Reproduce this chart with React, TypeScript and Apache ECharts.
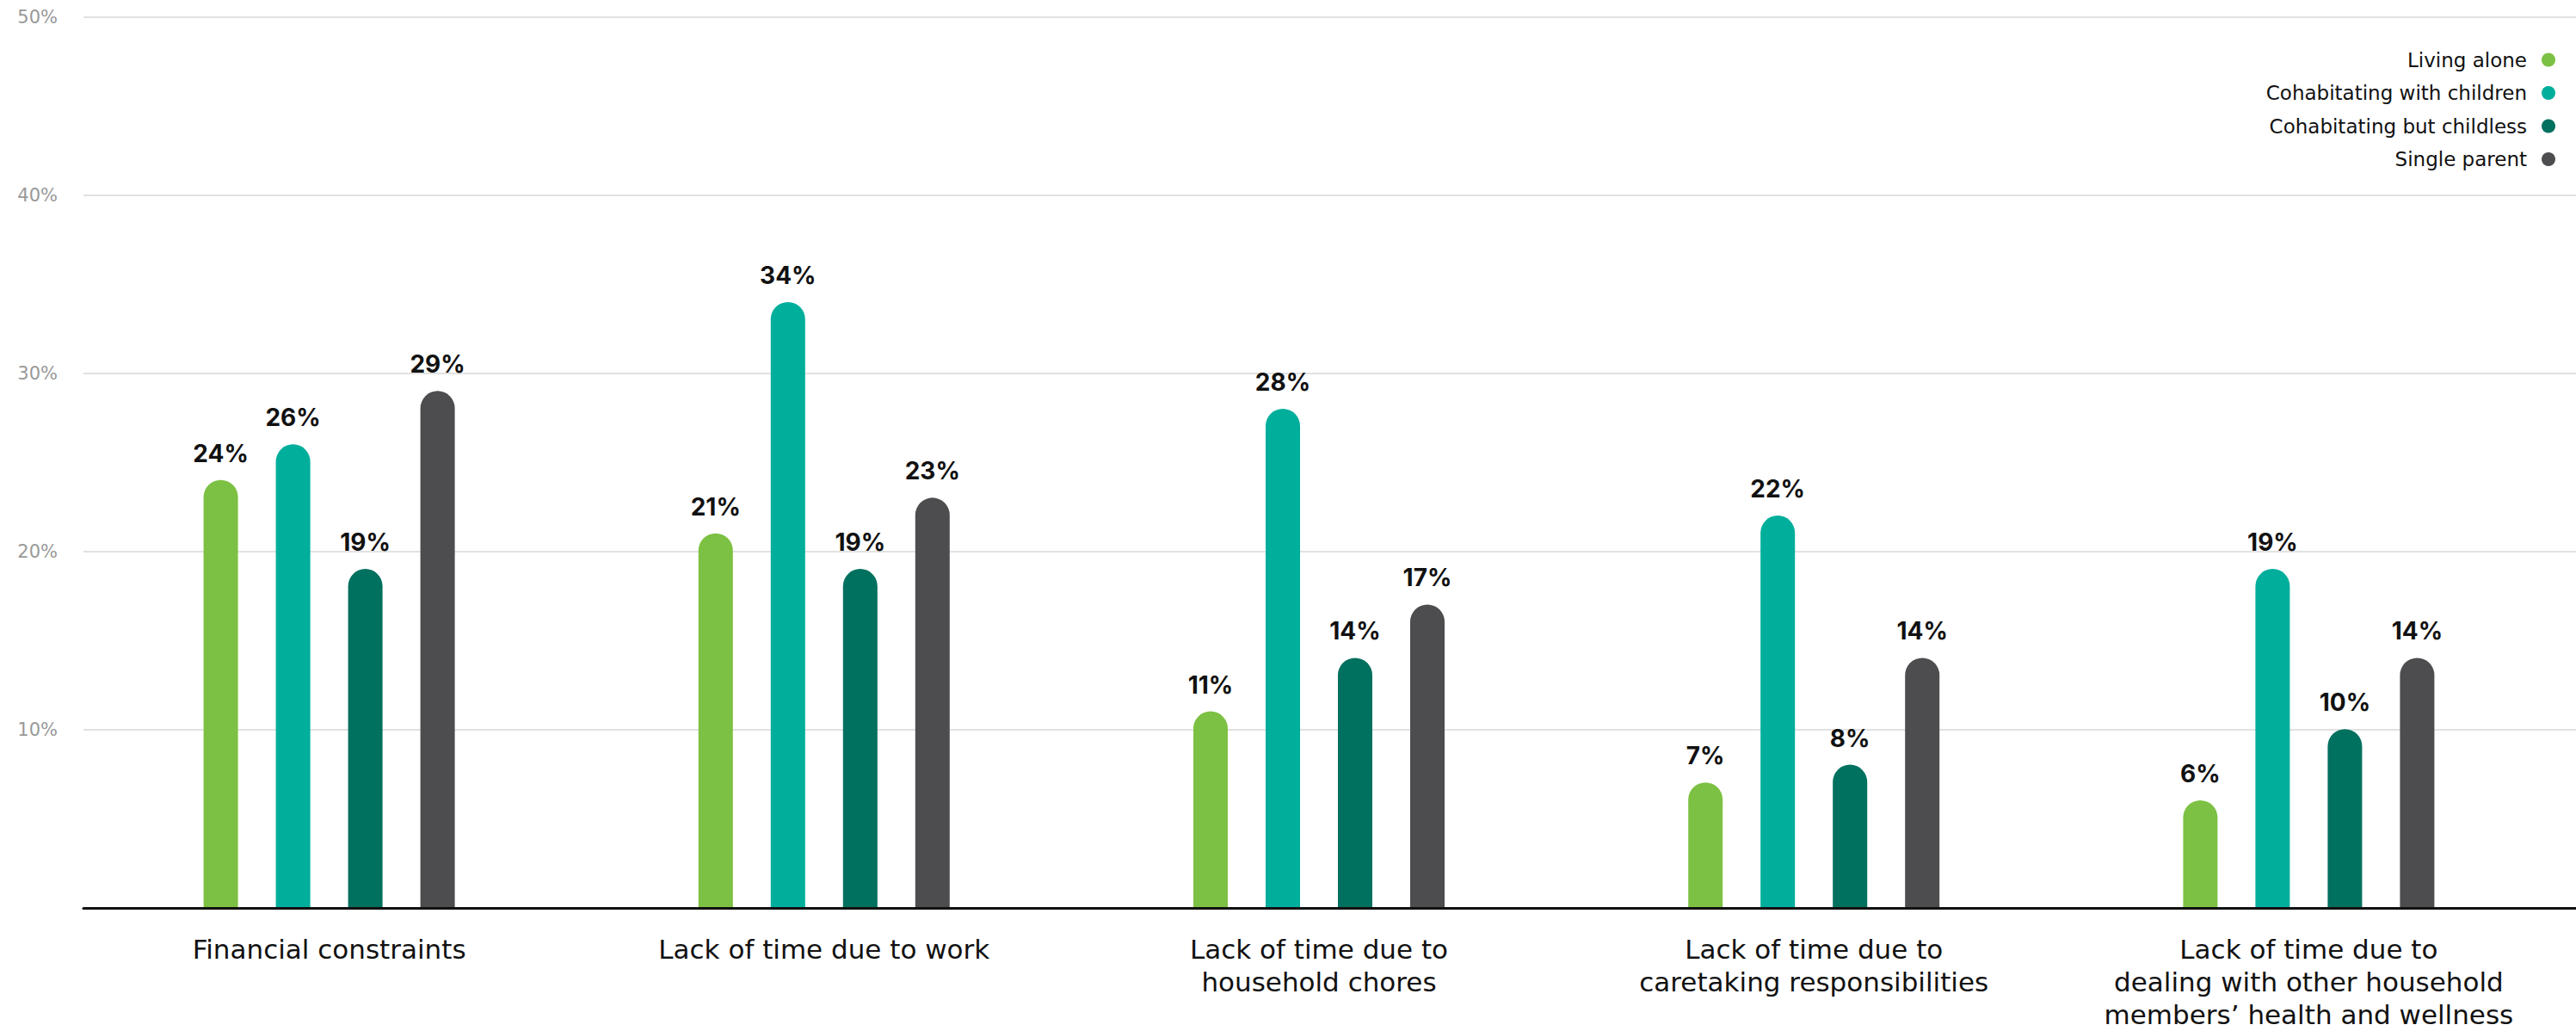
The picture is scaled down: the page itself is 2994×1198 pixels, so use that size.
import React, { useEffect, useRef } from "react";
import * as echarts from "echarts";

const categories = [
  "Financial constraints",
  "Lack of time due to work",
  "Lack of time due to\nhousehold chores",
  "Lack of time due to\ncaretaking responsibilities",
  "Lack of time due to\ndealing with other household\nmembers’ health and wellness",
];
const seriesNames = [
  "Living alone",
  "Cohabitating with children",
  "Cohabitating but childless",
  "Single parent",
];
const livingAlone = [24, 21, 11, 7, 6];
const withChildren = [26, 34, 28, 22, 19];
const childless = [19, 19, 14, 8, 10];
const singleParent = [29, 23, 17, 14, 14];
const yTicks = [0, 10, 20, 30, 40, 50];
const colors = ["#7cc143", "#00ae9c", "#00705f", "#4d4d4f"];

const FONT = "'DejaVu Sans', 'Noto Sans', sans-serif";
const BOLD_FONT = "Inter, 'Noto Sans', sans-serif";

export default function App() {
  const ref = useRef<HTMLDivElement>(null);
  useEffect(() => {
    document.body.style.margin = "0";
    if (!ref.current) return;
    const chart = echarts.init(ref.current, undefined, { renderer: "svg" });
    const values = [livingAlone, withChildren, childless, singleParent];
    chart.setOption({
      animation: false,
      backgroundColor: "#ffffff",
      textStyle: { fontFamily: FONT },
      legend: {
        orient: "vertical",
        right: 19,
        top: 53,
        align: "right",
        icon: "circle",
        itemWidth: 16,
        itemHeight: 16,
        itemGap: 15.5,
        data: seriesNames,
        textStyle: {
          fontFamily: FONT,
          fontSize: 23,
          color: "#111111",
          padding: [0, 12, 0, 0],
        },
      },
      grid: [
        { left: 95, right: 23, top: 20, bottom: 143 },
        { left: 97, right: 0, top: 20, bottom: 143 },
      ],
      xAxis: [
        {
          type: "category",
          gridIndex: 0,
          data: categories,
          axisLine: { show: false },
          axisTick: { show: false },
          axisLabel: {
            fontFamily: FONT,
            fontSize: 31,
            color: "#111111",
            lineHeight: 38,
            margin: 30,
            interval: 0,
          },
        },
        {
          type: "category",
          gridIndex: 1,
          data: [""],
          axisLine: { show: true, lineStyle: { color: "#111111", width: 3 } },
          axisTick: { show: false },
          axisLabel: { show: false },
        },
      ],
      yAxis: [
        {
          type: "value",
          gridIndex: 0,
          min: yTicks[0],
          max: yTicks[yTicks.length - 1],
          interval: 10,
          show: false,
          splitLine: { show: false },
        },
        {
          type: "value",
          gridIndex: 1,
          min: yTicks[0],
          max: yTicks[yTicks.length - 1],
          interval: 10,
          axisLine: { show: false },
          axisTick: { show: false },
          splitLine: { show: true, lineStyle: { color: "#d9d9d9", width: 1.5 } },
          axisLabel: {
            fontFamily: FONT,
            fontSize: 21,
            color: "#999999",
            margin: 30,
            formatter: (v: number) => (v === 0 ? "" : v + "%"),
          },
        },
      ],
      series: seriesNames.map((name, i) => ({
        name,
        type: "bar",
        xAxisIndex: 0,
        yAxisIndex: 0,
        data: values[i],
        barWidth: 40,
        barGap: "110%",
        itemStyle: { color: colors[i], borderRadius: [20, 20, 0, 0] },
        label: {
          show: true,
          position: "top",
          distance: 17,
          fontFamily: BOLD_FONT,
          fontSize: 28,
          fontWeight: 700,
          color: "#111111",
          formatter: (p: any) => p.value + "%",
        },
      })),
    });
    return () => chart.dispose();
  }, []);
  return (
    <div
      ref={ref}
      style={{ position: "absolute", left: 0, top: 0, width: 2994, height: 1198 }}
    />
  );
}
